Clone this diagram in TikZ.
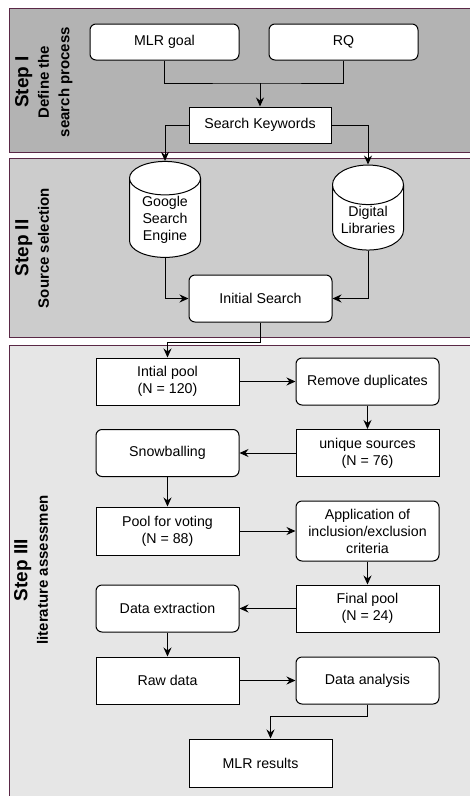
\documentclass[tikz,border=0pt]{standalone}
\usepackage{fontspec}
\setmainfont{Liberation Sans}
\usetikzlibrary{shapes.geometric,arrows.meta}
\definecolor{panelline}{RGB}{90,40,70}
\definecolor{fillone}{RGB}{179,179,179}
\definecolor{filltwo}{RGB}{204,204,204}
\definecolor{fillthree}{RGB}{230,230,230}

\begin{document}
\begin{tikzpicture}[
        x=1pt, y=-1pt,
        every node/.style={font=\fontsize{14.2}{17}\selectfont, align=center},
        box/.style={draw, line width=1pt, fill=white, minimum width=143pt, minimum height=47pt, inner sep=2pt},
        rbox/.style={box, rounded corners=6pt},
        db/.style={draw, line width=1pt, fill=white, cylinder, shape border rotate=90, aspect=0.7, minimum width=71pt, minimum height=85pt, inner sep=1pt},
        arr/.style={draw, line width=1pt, -{Stealth[length=9pt,width=8pt,inset=3pt]}},
        panel/.style={draw=panelline, line width=1pt},
        lbl/.style={rotate=90, anchor=north, inner sep=0pt, font=\bfseries\fontsize{15}{20.5}\selectfont},
    ]
    \useasboundingbox (0,0) rectangle (470,796);
    % panels
    \fill[fillone] (9,8) rectangle (470,152);
    \draw[panel] (470,8) -- (9,8) -- (9,152) -- (470,152);
    \fill[filltwo] (9,158) rectangle (470,337);
    \draw[panel] (470,158) -- (9,158) -- (9,337) -- (470,337);
    \fill[fillthree] (9,345) rectangle (470,796);
    \draw[panel] (470,345) -- (9,345) -- (9,796);
    \node[lbl] (lab1) at (15,82) {{\fontsize{19}{20.5}\selectfont Step I}\\Define the\\search process};
    \node[lbl] (lab2) at (15,248) {{\fontsize{19}{20.5}\selectfont Step II}\\Source selection};
    \node[lbl] (lab3) at (14,570) {{\fontsize{19}{20.5}\selectfont Step III}\\literature assessmen};

    % step I
    \node[rbox, minimum width=149pt, minimum height=36pt] (goal) at (164.5,42) {MLR goal};
    \node[rbox, minimum width=149pt, minimum height=36pt] (rq) at (343.5,42) {RQ};
    \node[box, minimum width=142pt, minimum height=36pt] (kw) at (260,125) {Search Keywords};
    \coordinate (join) at (260,83);
    \draw[line width=1pt] (goal) |- (join) -| (rq);
    \draw[arr] (join) -- (kw);

    % step II
    \node[db] (google) at (165,220) {Google\\Search\\Engine};
    \node[db] (diglib) at (368,220) {Digital\\Libraries};
    \node[rbox] (init) at (260.5,298.5) {Initial Search};
    \draw[arr] (kw) -| (google);
    \draw[arr] (kw) -| (diglib);
    \draw[arr] (google) |- (init);
    \draw[arr] (diglib) |- (init);

    % step III
    \node[box] (pool) at (167.5,381.5) {Intial pool\\(N = 120)};
    \node[rbox] (dup) at (367.5,381.5) {Remove duplicates};
    \node[box] (uniq) at (367.5,453) {unique sources\\(N = 76)};
    \node[rbox] (snow) at (167.5,453) {Snowballing};
    \node[box, minimum height=48pt] (vote) at (167.5,531) {Pool for voting\\(N = 88)};
    \node[rbox, minimum height=60pt] (incl) at (367.5,531) {Application of\\inclusion/exclusion\\criteria};
    \node[box] (final) at (367.5,608.5) {Final pool\\(N = 24)};
    \node[rbox] (extr) at (167.5,608.5) {Data extraction};
    \node[box] (raw) at (167.5,680.5) {Raw data};
    \node[rbox] (anal) at (367.5,680.5) {Data analysis};
    \node[box, minimum height=48pt] (res) at (260.5,763) {MLR results};
    \coordinate (resin) at ([xshift=10pt]res.north);

    \draw[arr] (init.south) -- ++(0,20) -| (pool);
    \draw[arr] (pool) -- (dup);
    \draw[arr] (dup) -- (uniq);
    \draw[arr] (uniq) -- (snow);
    \draw[arr] (snow) -- (vote);
    \draw[arr] (vote) -- (incl);
    \draw[arr] (incl) -- (final);
    \draw[arr] (final) -- (extr);
    \draw[arr] (extr) -- (raw);
    \draw[arr] (raw) -- (anal);
    \draw[arr] (anal.south) -- ++(0,12) -| (resin);
\end{tikzpicture}
\end{document}
